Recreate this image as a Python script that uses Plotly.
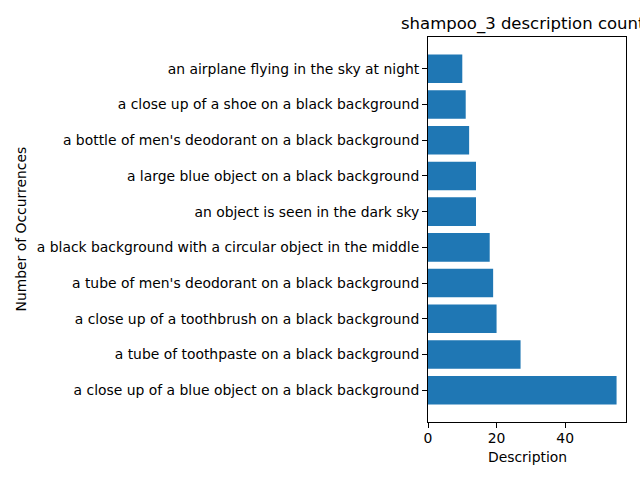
import plotly.graph_objects as go

descriptions = [
    "a close up of a blue object on a black background",
    "a tube of toothpaste on a black background",
    "a close up of a toothbrush on a black background",
    "a tube of men's deodorant on a black background",
    "a black background with a circular object in the middle",
    "an object is seen in the dark sky",
    "a large blue object on a black background",
    "a bottle of men's deodorant on a black background",
    "a close up of a shoe on a black background",
    "an airplane flying in the sky at night",
]
counts = [55, 27, 20, 19, 18, 14, 14, 12, 11, 10]
x_ticks = [0, 20, 40]

positions = list(range(len(descriptions)))
font = "DejaVu Sans"

fig = go.Figure(go.Bar(
    x=counts, y=positions, orientation="h", width=0.8,
    marker=dict(color="#1f77b4", line=dict(width=0)),
))

W, H = 640, 480
L, R, T, B = 428, 14, 37, 58
pw = W - L - R
ph = H - T - B

fig.update_layout(
    width=W, height=H,
    margin=dict(l=L, r=R, t=T, b=B, pad=0),
    paper_bgcolor="white", plot_bgcolor="white",
    showlegend=False,
    font=dict(family=font, size=13.9, color="black"),
    xaxis=dict(
        range=[0, max(counts) * 1.05], tickvals=x_ticks,
        ticks="outside", ticklen=5, tickwidth=1, tickcolor="black",
        ticklabelstandoff=-2,
        showline=True, linecolor="black", linewidth=1, mirror=True,
        showgrid=False, zeroline=False, automargin=False,
        tickfont=dict(family=font, size=13.9),
    ),
    yaxis=dict(
        range=[-0.89, len(descriptions) - 1 + 0.89],
        tickvals=positions, ticktext=descriptions,
        ticks="outside", ticklen=5, tickwidth=1, tickcolor="black",
        showline=True, linecolor="black", linewidth=1, mirror=True,
        showgrid=False, zeroline=False, automargin=False,
        tickfont=dict(family=font, size=13.9),
    ),
    annotations=[
        dict(text="shampoo_3 description counts", xref="paper", yref="paper",
             x=0.5, y=(H - B - 24) / ph, xanchor="center", yanchor="middle",
             showarrow=False, font=dict(family=font, size=16.5)),
        dict(text="Description", xref="paper", yref="paper",
             x=0.5, y=(H - B - 457) / ph, xanchor="center", yanchor="middle",
             showarrow=False, font=dict(family=font, size=13.9)),
        dict(text="Number of Occurrences", xref="paper", yref="paper",
             x=(20 - L) / pw, y=0.5, xanchor="center", yanchor="middle",
             textangle=-90, showarrow=False, font=dict(family=font, size=13.9)),
    ],
)

fig.write_html("out.html")
